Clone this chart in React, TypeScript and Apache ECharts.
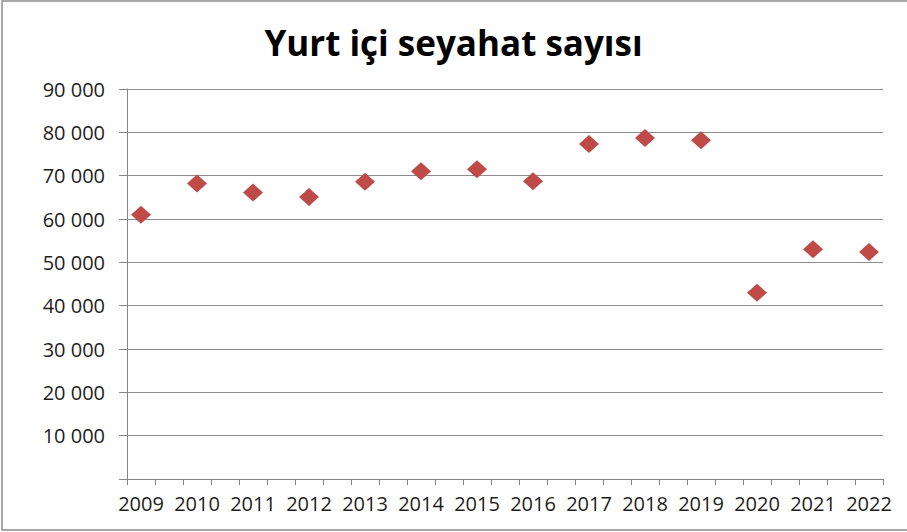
import React, { useEffect, useRef } from "react";
import * as echarts from "echarts";

const years = ["2009", "2010", "2011", "2012", "2013", "2014", "2015", "2016", "2017", "2018", "2019", "2020", "2021", "2022"];
const trips = [61000, 68200, 66100, 65100, 68600, 71000, 71500, 68700, 77300, 78700, 78200, 43000, 53000, 52400];
const yTicks = [0, 10000, 20000, 30000, 40000, 50000, 60000, 70000, 80000, 90000];
const title = "Yurt içi seyahat sayısı";

// Excel-like category layout: each year occupies every other slot
const categories: string[] = [];
years.forEach((y, i) => {
  categories.push(y);
  if (i < years.length - 1) categories.push("");
});

const fmt = (v: number) => {
  if (v === 0) return "";
  const s = String(Math.round(v));
  return s.replace(/\B(?=(\d{3})+(?!\d))/g, " ");
};

export default function App() {
  const ref = useRef<HTMLDivElement>(null);
  useEffect(() => {
    if (!ref.current) return;
    const chart = echarts.init(ref.current, undefined, { renderer: "svg" });
    chart.setOption({
      animation: false,
      backgroundColor: "#ffffff",
      title: {
        text: title,
        left: "center",
        top: 20,
        textStyle: { fontFamily: "Open Sans", fontWeight: "bold", fontSize: 35, color: "#000000" },
      },
      graphic: [
        {
          type: "rect",
          shape: { x: 2, y: 1, width: 940, height: 529 },
          style: { fill: "none", stroke: "#8c8c8c", lineWidth: 1.5 },
          silent: true,
        },
      ],
      grid: { left: 127, right: 24, top: 89, bottom: 53, containLabel: false },
      xAxis: {
        type: "category",
        data: categories,
        boundaryGap: true,
        axisLine: { lineStyle: { color: "#868686", width: 1 } },
        axisTick: { show: true, interval: 0, length: 6, lineStyle: { color: "#868686" } },
        axisLabel: {
          interval: 0,
          margin: 14,
          fontFamily: "Open Sans",
          fontSize: 20,
          color: "#1e1e1e",
        },
        splitLine: { show: false },
      },
      yAxis: {
        type: "value",
        min: 0,
        max: 90000,
        interval: 10000,
        axisLine: { show: true, lineStyle: { color: "#868686", width: 1 } },
        axisTick: { show: true, length: 8, lineStyle: { color: "#868686" } },
        axisLabel: {
          margin: 22,
          fontFamily: "Open Sans",
          fontSize: 20,
          color: "#1e1e1e",
          formatter: (v: number) => fmt(v),
          customValues: yTicks,
        },
        splitLine: { show: true, lineStyle: { color: "#8c8c8c", width: 1 } },
      },
      series: [
        {
          type: "scatter",
          name: title,
          symbol: "diamond",
          symbolSize: [20, 18],
          itemStyle: { color: "#BE4B48", opacity: 1 },
          data: trips.map((v, i) => [i * 2, v]),
        },
      ],
    });
    return () => chart.dispose();
  }, []);
  return (
    <div
      ref={ref}
      style={{ position: "fixed", left: 0, top: 0, width: 907, height: 532 }}
    />
  );
}
